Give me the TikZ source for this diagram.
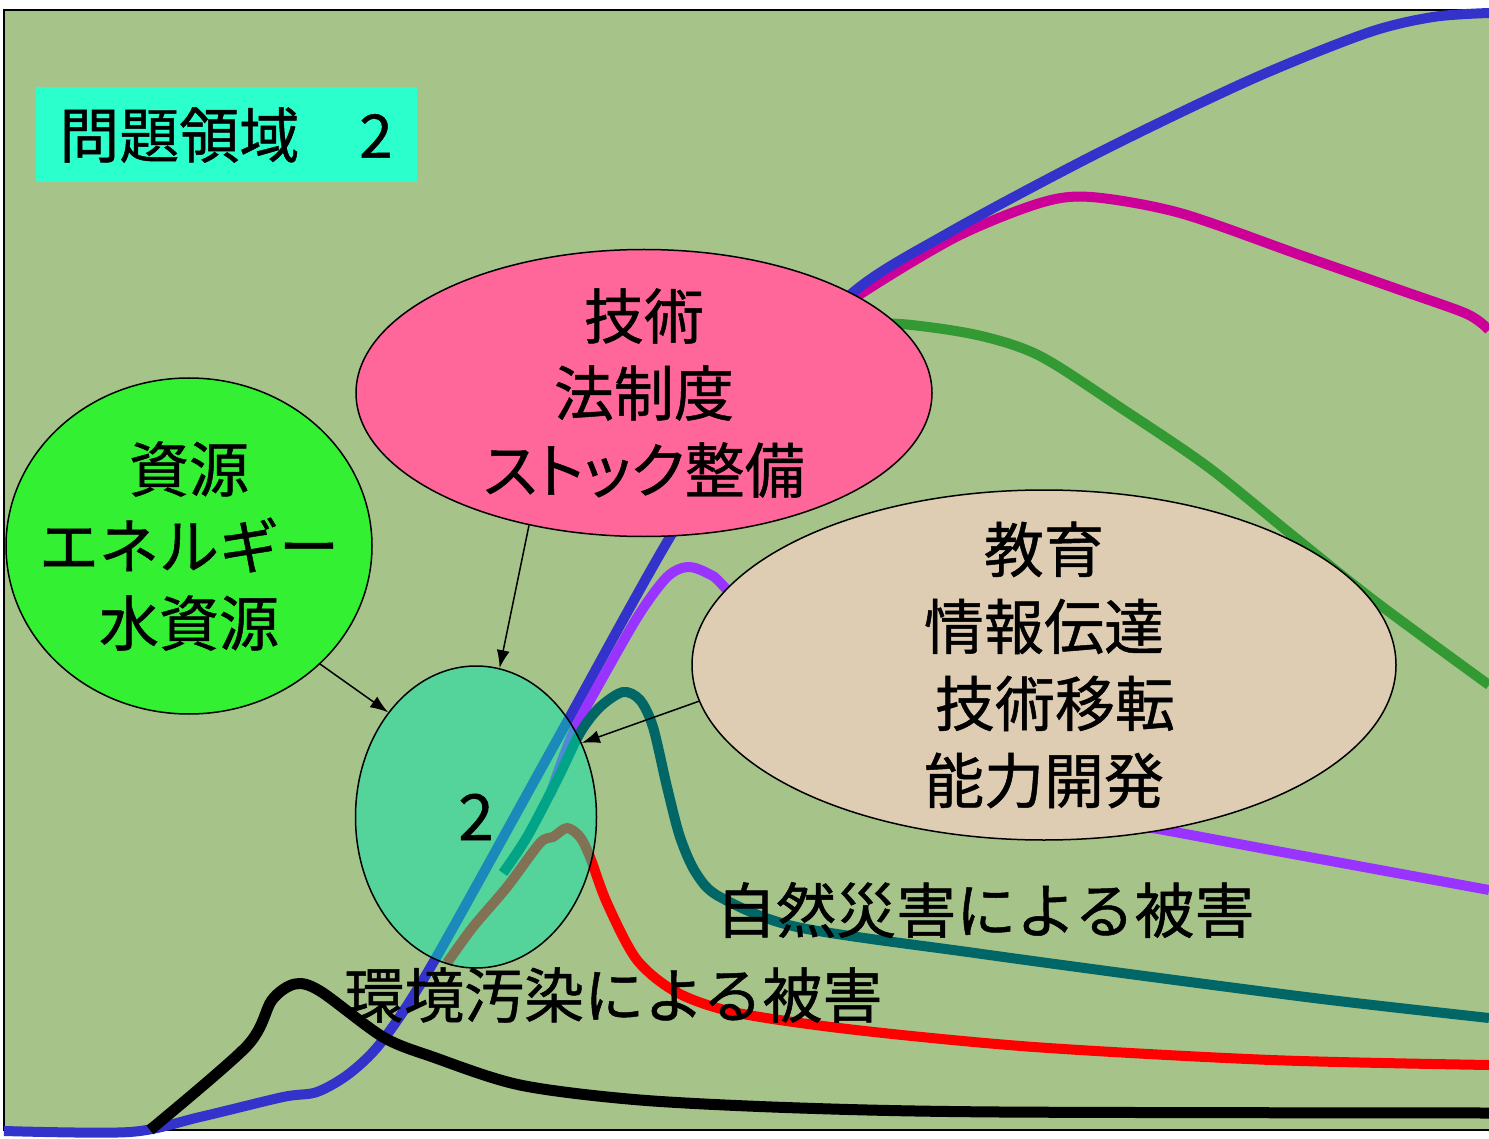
\documentclass[tikz,border=0pt]{standalone}
\usepackage{fontspec}
\setmainfont{Noto Sans CJK JP}[FakeBold=0.8]
\usepackage{tikz}
\usetikzlibrary{shapes.geometric, arrows.meta}

\definecolor{paper}{RGB}{166,196,137}
\definecolor{titlecyan}{RGB}{43,255,204}
\definecolor{resgreen}{RGB}{51,240,51}
\definecolor{techpink}{RGB}{255,102,153}
\definecolor{edutan}{RGB}{222,204,179}
\definecolor{twogreen}{RGB}{4,226,171}
\definecolor{cblue}{RGB}{51,51,204}
\definecolor{cmagenta}{RGB}{204,0,153}
\definecolor{cgreen}{RGB}{51,153,51}
\definecolor{cpurple}{RGB}{153,51,255}
\definecolor{cteal}{RGB}{0,102,102}

\tikzset{
x=1pt, y=-1pt, % one unit is one pixel, y runs downwards
>={Latex[length=18pt,width=13pt]}, % filled arrow heads
curve/.style={line width=10pt, line join=round}, % the thick coloured lines
blob/.style={ellipse, draw, line width=1.5pt, inner xsep=-40pt, inner ysep=-40pt, align=center, font=\fontsize{60}{77}\selectfont}, % the ellipses, size from minimum width/height only
big/.style={font=\fontsize{60}{70}\selectfont}, % free texts
}

\begin{document}
\begin{tikzpicture}
    \useasboundingbox (0,0) rectangle (1489,1139);
    \draw[fill=paper, line width=2pt] (4,10) rectangle (1500,1130);

    % curves
    \draw[curve, cgreen] plot[smooth, tension=0.5] coordinates {(850,325) (901,324) (977,335) (1040,356) (1124,410) (1208,467) (1292,535) (1376,602) (1489,685)};
    \draw[curve, cmagenta] plot[smooth, tension=0.5] coordinates {(800,340) (859,295) (956,237) (1040,203) (1091,197) (1180,213) (1300,255) (1400,290) (1467,314) (1489,330)};
    \draw[curve, cblue] plot[smooth, tension=0.5] coordinates {(4,1131) (130,1132) (200,1117) (283,1097) (317,1092) (350,1073) (383,1040) (433,963) (557,740) (670,537) (760,400) (850,295) (950,232) (1100,152) (1250,80) (1367,33) (1433,17) (1489,13)};
    \draw[curve, cpurple] plot[smooth, tension=0.5] coordinates {(550,795) (573,733) (607,670) (640,613) (667,577) (687,567) (707,573) (727,590) (820,700) (1000,800) (1164,830) (1271,850) (1380,870) (1489,890)};
    \draw[curve, cteal] plot[smooth, tension=0.5] coordinates {(503,873) (527,837) (557,780) (580,733) (600,707) (623,692) (640,700) (653,727) (667,787) (680,837) (696,873) (720,897) (797,927) (975,953) (1152,977) (1330,1000) (1489,1018)};
    \draw[curve, red] plot[smooth, tension=0.5] coordinates {(447,963) (473,927) (507,887) (540,843) (553,837) (567,828) (580,837) (590,857) (607,903) (637,960) (678,993) (738,1013) (856,1030) (1034,1047) (1271,1060) (1489,1065)};
    \draw[curve, black, line width=11pt] plot[smooth, tension=0.5] coordinates {(150,1130) (247,1046) (272,1000) (295,984) (320,991) (383,1037) (433,1057) (520,1085) (640,1100) (800,1108) (1000,1112) (1489,1113)};

    \node[fill=titlecyan, big, minimum width=381pt, minimum height=95pt] (title) at (226,135) {問題領域　2};

    \node[blob, fill=resgreen, minimum width=366pt, minimum height=336pt] (res) at (189,546) {資源\\エネルギー\\水資源};
    \node[blob, fill=techpink, minimum width=576pt, minimum height=287pt] (tech) at (644,393) {技術\\法制度\\\addfontfeatures{RawFeature=+palt}ストック整備};
    \node[blob, fill=edutan, minimum width=704pt, minimum height=350pt] (edu) at (1044,665) {教育\\情報伝達\\\hspace*{22pt}技術移転\\能力開発};
    \node[blob, fill=twogreen, fill opacity=0.5, text opacity=1, minimum width=241pt, minimum height=302pt, font=\fontsize{64}{70}\selectfont] (two) at (476,817) {2};

    \node[big, anchor=west, inner sep=0pt] (nat) at (716,910) {自然災害による被害};
    \node[big, anchor=west, inner sep=0pt] (env) at (344,995) {環境汚染による被害};

    \draw[->, line width=1.5pt] (res.-42) -- (two.130);
    \draw[->, line width=1.5pt] (tech.-131) -- (two.81);
    \draw[->, line width=1.5pt] (edu.186) -- (two.35);
\end{tikzpicture}
\end{document}
